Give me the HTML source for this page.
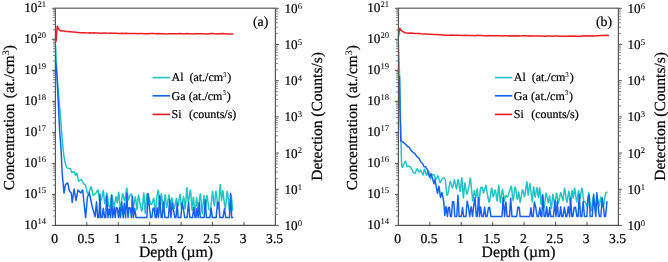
<!DOCTYPE html>
<html><head><meta charset="utf-8"><style>
html,body{margin:0;padding:0;background:#fff;width:668px;height:262px;overflow:hidden}
svg{display:block}
text{font-family:"Liberation Serif", serif;fill:#000;text-rendering:geometricPrecision;stroke:#000;stroke-width:0.22px}
tspan[font-size]{stroke-width:0.05px}
</style></head><body>
<svg width="668" height="262" viewBox="0 0 668 262">
<defs><filter id="bl" x="0" y="0" width="100%" height="100%" filterUnits="userSpaceOnUse"><feGaussianBlur stdDeviation="0.25"/></filter></defs>
<rect width="668" height="262" fill="#fff"/>
<g filter="url(#bl)">
<path d="M55.50,44.60C55.59,46.40 56.12,56.45 56.30,60.00C56.47,63.55 56.69,70.33 57.00,75.00C57.31,79.67 58.48,93.58 59.00,100.00C59.52,106.42 61.01,124.17 61.50,130.00C61.99,135.83 62.84,146.50 63.20,150.00C63.56,153.50 64.18,157.94 64.60,160.00C65.02,162.06 66.13,166.65 66.80,167.67C67.47,168.69 69.69,168.17 70.30,168.75C70.91,169.33 71.56,172.33 72.00,172.65C72.44,172.98 73.69,171.21 74.10,171.52C74.51,171.83 75.16,175.09 75.50,175.31C75.84,175.53 76.65,172.75 77.00,173.40C77.35,174.05 78.16,180.07 78.50,180.87C78.84,181.68 79.55,180.45 79.90,180.32C80.25,180.20 81.06,179.39 81.50,179.81C81.94,180.23 83.23,183.31 83.70,183.90C84.17,184.50 85.06,183.80 85.50,184.91C85.94,186.01 87.03,192.66 87.50,193.37C87.97,194.08 89.06,191.72 89.50,190.97C89.94,190.23 90.89,186.50 91.30,186.98C91.71,187.46 92.56,194.28 93.00,195.07C93.44,195.86 94.69,194.06 95.10,193.77C95.51,193.48 96.16,193.01 96.50,192.58C96.84,192.16 97.61,189.11 98.00,190.14C98.39,191.18 99.36,200.50 99.80,201.43C100.24,202.36 101.39,199.35 101.80,198.09C102.21,196.83 102.96,189.98 103.30,190.62C103.64,191.25 104.30,203.26 104.72,203.54C105.13,203.83 106.39,192.84 106.86,193.03C107.32,193.23 108.32,203.62 108.71,205.20C109.10,206.78 109.81,207.80 110.19,206.57C110.57,205.33 111.50,194.56 111.94,194.63C112.38,194.70 113.48,206.92 113.96,207.16C114.43,207.40 115.60,197.19 116.00,196.70C116.40,196.21 117.08,203.43 117.39,202.93C117.70,202.43 118.32,191.54 118.69,192.41C119.06,193.27 120.13,210.18 120.57,210.34C121.01,210.50 121.97,194.90 122.46,193.80C122.94,192.69 124.24,201.53 124.74,200.84C125.23,200.16 126.29,188.02 126.70,187.91C127.11,187.79 127.91,198.91 128.26,199.83C128.62,200.76 129.29,196.43 129.71,195.79C130.12,195.15 131.40,192.98 131.80,194.34C132.20,195.71 132.73,207.19 133.14,207.50C133.56,207.81 134.91,196.72 135.36,197.00C135.81,197.28 136.65,210.09 137.00,209.87C137.36,209.65 138.04,195.63 138.43,195.11C138.81,194.58 139.90,203.51 140.32,205.34C140.74,207.18 141.62,212.26 142.04,210.82C142.45,209.37 143.49,192.67 143.85,192.96C144.22,193.26 144.82,213.13 145.17,213.32C145.52,213.52 146.43,196.61 146.86,194.66C147.28,192.72 148.38,195.58 148.80,196.62C149.22,197.67 150.07,202.72 150.43,203.60C150.78,204.49 151.46,204.81 151.85,204.21C152.24,203.60 153.36,197.54 153.77,198.43C154.19,199.32 155.01,212.26 155.41,211.85C155.81,211.45 156.81,197.37 157.17,194.96C157.54,192.54 158.23,189.03 158.54,191.13C158.85,193.23 159.51,212.67 159.83,212.99C160.14,213.30 160.82,194.22 161.25,193.82C161.67,193.43 162.99,209.50 163.44,209.59C163.89,209.68 164.71,194.82 165.09,194.61C165.48,194.39 166.25,207.72 166.71,207.74C167.17,207.76 168.59,194.69 169.03,194.79C169.48,194.90 170.21,208.30 170.54,208.61C170.87,208.92 171.41,197.46 171.83,197.45C172.25,197.44 173.58,208.39 174.12,208.51C174.66,208.62 176.01,198.70 176.45,198.41C176.89,198.12 177.49,206.52 177.92,206.04C178.36,205.56 179.74,193.94 180.16,194.31C180.57,194.68 181.10,208.97 181.51,209.21C181.91,209.45 183.18,196.40 183.61,196.36C184.05,196.31 184.85,209.82 185.23,208.80C185.62,207.77 186.56,188.29 186.92,187.57C187.28,186.84 187.90,202.29 188.32,202.57C188.73,202.85 190.01,189.04 190.45,189.93C190.89,190.83 191.75,209.39 192.09,210.23C192.43,211.07 193.01,196.73 193.36,197.13C193.71,197.53 194.71,213.61 195.09,213.68C195.46,213.75 196.22,198.24 196.58,197.73C196.93,197.22 197.68,209.73 198.12,209.29C198.56,208.86 199.90,193.49 200.36,193.99C200.82,194.50 201.66,213.45 202.07,213.61C202.49,213.77 203.55,195.64 203.91,195.38C204.27,195.11 204.82,211.30 205.17,211.31C205.53,211.32 206.52,195.73 206.94,195.42C207.37,195.12 208.37,207.15 208.80,208.71C209.24,210.27 210.23,210.85 210.67,208.83C211.10,206.81 212.12,191.72 212.54,191.41C212.96,191.11 213.87,206.26 214.27,206.22C214.68,206.19 215.55,190.75 216.02,191.08C216.49,191.42 217.82,209.79 218.30,209.06C218.78,208.33 219.78,185.90 220.16,184.86C220.55,183.83 221.25,199.53 221.57,200.22C221.89,200.91 222.49,189.71 222.91,190.74C223.33,191.78 224.62,208.98 225.14,209.07C225.66,209.15 226.83,191.07 227.35,191.45C227.88,191.83 229.21,211.92 229.64,212.34C230.08,212.77 230.72,195.28 231.08,195.09C231.43,194.91 232.51,208.89 232.70,210.72" fill="none" stroke="#20c4c4" stroke-width="1.5" stroke-linejoin="round"/>
<polyline points="55.80,63.00 56.90,75.00 59.60,130.00 61.10,150.00 62.10,172.00 64.00,193.00 65.50,184.40 67.80,183.00 69.40,191.00 71.30,193.00 72.20,202.50 74.10,189.00 76.00,200.60 78.00,190.00 80.80,193.00 82.70,190.00 85.60,217.80 87.50,196.80 89.40,193.00 92.30,207.00 95.10,216.80 96.50,202.04 97.77,217.60 98.98,217.60 99.92,193.94 100.84,217.60 102.21,217.60 103.27,208.14 104.67,217.60 105.72,217.60 106.71,196.04 108.02,217.60 109.18,208.97 110.56,217.60 111.51,195.24 112.74,217.60 114.20,207.67 115.24,217.60 116.21,207.55 117.32,208.27 118.52,217.60 119.52,207.50 120.43,217.60 121.77,202.31 123.16,217.60 124.32,203.34 125.53,217.60 126.84,193.23 127.98,217.60 129.09,207.68 130.41,208.27 131.40,217.60 132.35,196.52 133.43,217.60 134.61,208.18 136.08,217.60 137.28,217.60 138.48,217.60 139.68,217.60 140.88,217.60 142.08,217.60 143.28,217.60 144.48,217.60 145.68,217.60 146.88,217.60 148.08,193.55 149.51,208.27 150.64,217.60 151.82,217.60 153.02,208.28 154.11,208.27 155.25,217.60 156.17,217.60 157.09,207.84 158.38,217.60 159.71,195.76 161.20,217.60 162.19,217.60 163.53,202.08 164.87,217.60 166.25,217.60 167.24,217.60 168.45,217.60 169.65,199.42 170.90,217.60 172.34,203.12 173.32,208.27 174.72,217.60 175.95,217.60 177.23,203.10 178.13,217.60 179.51,217.60 180.86,217.60 182.06,203.06 183.37,208.27 184.71,217.60 185.73,217.60 187.08,217.60 188.56,202.62 189.87,217.60 191.23,217.60 192.50,217.60 193.79,207.70 195.03,217.60 195.94,217.60 196.87,208.54 198.18,217.60 199.25,202.75 200.27,217.60 201.76,217.60 203.22,217.60 204.13,217.60 205.31,199.69 206.37,217.60 207.40,217.60 208.86,217.60 209.89,217.60 211.14,208.31 212.34,217.60 213.78,217.60 215.10,217.60 216.14,217.60 217.57,202.05 218.77,202.81 219.85,217.60 220.84,217.60 221.94,217.60 223.03,217.60 224.44,208.67 225.76,217.60 227.21,217.60 228.28,217.60 229.40,217.60 230.54,193.62 231.70,217.60 232.76,217.60" fill="none" stroke="#1762f0" stroke-width="1.5" stroke-linejoin="round" stroke-linecap="round"/>
<polyline points="56.00,41.80 57.20,26.30 58.50,29.00 60.00,30.54 62.00,31.05 64.00,31.05 66.00,31.53 68.00,31.48 70.00,31.71 72.00,31.94 74.00,31.96 76.00,32.17 78.00,32.54 80.00,32.65 82.00,32.68 84.00,32.67 86.00,32.85 88.00,32.92 90.00,32.82 92.00,32.95 94.00,32.74 96.00,33.07 98.00,33.02 100.00,33.20 102.00,33.18 104.00,33.07 106.00,33.00 108.00,33.38 110.00,33.08 112.00,33.25 114.00,33.22 116.00,33.23 118.00,33.44 120.00,33.56 122.00,33.30 124.00,33.48 126.00,33.37 128.00,33.50 130.00,33.46 132.00,33.38 134.00,33.40 136.00,33.43 138.00,33.73 140.00,33.58 142.00,33.49 144.00,33.78 146.00,33.83 148.00,33.63 150.00,33.52 152.00,33.56 154.00,33.54 156.00,33.65 158.00,33.57 160.00,33.65 162.02,33.65 164.04,33.78 166.07,33.90 168.09,33.85 170.11,33.72 172.13,33.72 174.16,33.76 176.18,33.70 178.20,33.69 180.22,33.57 182.24,33.66 184.27,33.94 186.29,33.60 188.31,33.75 190.33,33.80 192.36,33.90 194.38,33.64 196.40,33.66 198.42,33.65 200.44,33.71 202.47,33.73 204.49,33.93 206.51,33.89 208.53,33.90 210.56,33.56 212.58,33.56 214.60,33.83 216.62,33.91 218.64,33.74 220.67,33.78 222.69,33.55 224.71,33.71 226.73,33.92 228.76,33.88 230.78,33.89 232.80,33.94" fill="none" stroke="#ee1c24" stroke-width="1.5" stroke-linejoin="round" stroke-linecap="round"/>
<line x1="54.8" y1="8.3" x2="276.0" y2="8.3" stroke="#7c7c7c" stroke-width="1.4"/>
<line x1="54.8" y1="225.4" x2="276.0" y2="225.4" stroke="#555" stroke-width="1.2"/>
<line x1="55.4" y1="8.3" x2="55.4" y2="225.4" stroke="#555" stroke-width="1.2"/>
<line x1="275.4" y1="8.3" x2="275.4" y2="225.4" stroke="#555" stroke-width="1.2"/>
<line x1="51.9" y1="225.40" x2="55.4" y2="225.40" stroke="#555" stroke-width="1"/>
<line x1="52.9" y1="216.06" x2="55.4" y2="216.06" stroke="#777" stroke-width="0.9"/>
<line x1="52.9" y1="210.60" x2="55.4" y2="210.60" stroke="#777" stroke-width="0.9"/>
<line x1="52.9" y1="206.73" x2="55.4" y2="206.73" stroke="#777" stroke-width="0.9"/>
<line x1="52.9" y1="203.72" x2="55.4" y2="203.72" stroke="#777" stroke-width="0.9"/>
<line x1="52.9" y1="201.27" x2="55.4" y2="201.27" stroke="#777" stroke-width="0.9"/>
<line x1="52.9" y1="199.19" x2="55.4" y2="199.19" stroke="#777" stroke-width="0.9"/>
<line x1="52.9" y1="197.39" x2="55.4" y2="197.39" stroke="#777" stroke-width="0.9"/>
<line x1="52.9" y1="195.80" x2="55.4" y2="195.80" stroke="#777" stroke-width="0.9"/>
<line x1="51.9" y1="194.39" x2="55.4" y2="194.39" stroke="#555" stroke-width="1"/>
<line x1="52.9" y1="185.05" x2="55.4" y2="185.05" stroke="#777" stroke-width="0.9"/>
<line x1="52.9" y1="179.59" x2="55.4" y2="179.59" stroke="#777" stroke-width="0.9"/>
<line x1="52.9" y1="175.71" x2="55.4" y2="175.71" stroke="#777" stroke-width="0.9"/>
<line x1="52.9" y1="172.71" x2="55.4" y2="172.71" stroke="#777" stroke-width="0.9"/>
<line x1="52.9" y1="170.25" x2="55.4" y2="170.25" stroke="#777" stroke-width="0.9"/>
<line x1="52.9" y1="168.18" x2="55.4" y2="168.18" stroke="#777" stroke-width="0.9"/>
<line x1="52.9" y1="166.38" x2="55.4" y2="166.38" stroke="#777" stroke-width="0.9"/>
<line x1="52.9" y1="164.79" x2="55.4" y2="164.79" stroke="#777" stroke-width="0.9"/>
<line x1="51.9" y1="163.37" x2="55.4" y2="163.37" stroke="#555" stroke-width="1"/>
<line x1="52.9" y1="154.04" x2="55.4" y2="154.04" stroke="#777" stroke-width="0.9"/>
<line x1="52.9" y1="148.57" x2="55.4" y2="148.57" stroke="#777" stroke-width="0.9"/>
<line x1="52.9" y1="144.70" x2="55.4" y2="144.70" stroke="#777" stroke-width="0.9"/>
<line x1="52.9" y1="141.69" x2="55.4" y2="141.69" stroke="#777" stroke-width="0.9"/>
<line x1="52.9" y1="139.24" x2="55.4" y2="139.24" stroke="#777" stroke-width="0.9"/>
<line x1="52.9" y1="137.16" x2="55.4" y2="137.16" stroke="#777" stroke-width="0.9"/>
<line x1="52.9" y1="135.36" x2="55.4" y2="135.36" stroke="#777" stroke-width="0.9"/>
<line x1="52.9" y1="133.78" x2="55.4" y2="133.78" stroke="#777" stroke-width="0.9"/>
<line x1="51.9" y1="132.36" x2="55.4" y2="132.36" stroke="#555" stroke-width="1"/>
<line x1="52.9" y1="123.02" x2="55.4" y2="123.02" stroke="#777" stroke-width="0.9"/>
<line x1="52.9" y1="117.56" x2="55.4" y2="117.56" stroke="#777" stroke-width="0.9"/>
<line x1="52.9" y1="113.68" x2="55.4" y2="113.68" stroke="#777" stroke-width="0.9"/>
<line x1="52.9" y1="110.68" x2="55.4" y2="110.68" stroke="#777" stroke-width="0.9"/>
<line x1="52.9" y1="108.22" x2="55.4" y2="108.22" stroke="#777" stroke-width="0.9"/>
<line x1="52.9" y1="106.15" x2="55.4" y2="106.15" stroke="#777" stroke-width="0.9"/>
<line x1="52.9" y1="104.35" x2="55.4" y2="104.35" stroke="#777" stroke-width="0.9"/>
<line x1="52.9" y1="102.76" x2="55.4" y2="102.76" stroke="#777" stroke-width="0.9"/>
<line x1="51.9" y1="101.34" x2="55.4" y2="101.34" stroke="#555" stroke-width="1"/>
<line x1="52.9" y1="92.01" x2="55.4" y2="92.01" stroke="#777" stroke-width="0.9"/>
<line x1="52.9" y1="86.55" x2="55.4" y2="86.55" stroke="#777" stroke-width="0.9"/>
<line x1="52.9" y1="82.67" x2="55.4" y2="82.67" stroke="#777" stroke-width="0.9"/>
<line x1="52.9" y1="79.66" x2="55.4" y2="79.66" stroke="#777" stroke-width="0.9"/>
<line x1="52.9" y1="77.21" x2="55.4" y2="77.21" stroke="#777" stroke-width="0.9"/>
<line x1="52.9" y1="75.13" x2="55.4" y2="75.13" stroke="#777" stroke-width="0.9"/>
<line x1="52.9" y1="73.33" x2="55.4" y2="73.33" stroke="#777" stroke-width="0.9"/>
<line x1="52.9" y1="71.75" x2="55.4" y2="71.75" stroke="#777" stroke-width="0.9"/>
<line x1="51.9" y1="70.33" x2="55.4" y2="70.33" stroke="#555" stroke-width="1"/>
<line x1="52.9" y1="60.99" x2="55.4" y2="60.99" stroke="#777" stroke-width="0.9"/>
<line x1="52.9" y1="55.53" x2="55.4" y2="55.53" stroke="#777" stroke-width="0.9"/>
<line x1="52.9" y1="51.66" x2="55.4" y2="51.66" stroke="#777" stroke-width="0.9"/>
<line x1="52.9" y1="48.65" x2="55.4" y2="48.65" stroke="#777" stroke-width="0.9"/>
<line x1="52.9" y1="46.19" x2="55.4" y2="46.19" stroke="#777" stroke-width="0.9"/>
<line x1="52.9" y1="44.12" x2="55.4" y2="44.12" stroke="#777" stroke-width="0.9"/>
<line x1="52.9" y1="42.32" x2="55.4" y2="42.32" stroke="#777" stroke-width="0.9"/>
<line x1="52.9" y1="40.73" x2="55.4" y2="40.73" stroke="#777" stroke-width="0.9"/>
<line x1="51.9" y1="39.31" x2="55.4" y2="39.31" stroke="#555" stroke-width="1"/>
<line x1="52.9" y1="29.98" x2="55.4" y2="29.98" stroke="#777" stroke-width="0.9"/>
<line x1="52.9" y1="24.52" x2="55.4" y2="24.52" stroke="#777" stroke-width="0.9"/>
<line x1="52.9" y1="20.64" x2="55.4" y2="20.64" stroke="#777" stroke-width="0.9"/>
<line x1="52.9" y1="17.64" x2="55.4" y2="17.64" stroke="#777" stroke-width="0.9"/>
<line x1="52.9" y1="15.18" x2="55.4" y2="15.18" stroke="#777" stroke-width="0.9"/>
<line x1="52.9" y1="13.10" x2="55.4" y2="13.10" stroke="#777" stroke-width="0.9"/>
<line x1="52.9" y1="11.31" x2="55.4" y2="11.31" stroke="#777" stroke-width="0.9"/>
<line x1="52.9" y1="9.72" x2="55.4" y2="9.72" stroke="#777" stroke-width="0.9"/>
<line x1="51.9" y1="8.3" x2="55.4" y2="8.3" stroke="#555" stroke-width="1"/>
<line x1="275.4" y1="225.40" x2="278.9" y2="225.40" stroke="#555" stroke-width="1"/>
<line x1="275.4" y1="214.51" x2="277.9" y2="214.51" stroke="#777" stroke-width="0.9"/>
<line x1="275.4" y1="208.14" x2="277.9" y2="208.14" stroke="#777" stroke-width="0.9"/>
<line x1="275.4" y1="203.62" x2="277.9" y2="203.62" stroke="#777" stroke-width="0.9"/>
<line x1="275.4" y1="200.11" x2="277.9" y2="200.11" stroke="#777" stroke-width="0.9"/>
<line x1="275.4" y1="197.24" x2="277.9" y2="197.24" stroke="#777" stroke-width="0.9"/>
<line x1="275.4" y1="194.82" x2="277.9" y2="194.82" stroke="#777" stroke-width="0.9"/>
<line x1="275.4" y1="192.72" x2="277.9" y2="192.72" stroke="#777" stroke-width="0.9"/>
<line x1="275.4" y1="190.87" x2="277.9" y2="190.87" stroke="#777" stroke-width="0.9"/>
<line x1="275.4" y1="189.22" x2="278.9" y2="189.22" stroke="#555" stroke-width="1"/>
<line x1="275.4" y1="178.32" x2="277.9" y2="178.32" stroke="#777" stroke-width="0.9"/>
<line x1="275.4" y1="171.95" x2="277.9" y2="171.95" stroke="#777" stroke-width="0.9"/>
<line x1="275.4" y1="167.43" x2="277.9" y2="167.43" stroke="#777" stroke-width="0.9"/>
<line x1="275.4" y1="163.93" x2="277.9" y2="163.93" stroke="#777" stroke-width="0.9"/>
<line x1="275.4" y1="161.06" x2="277.9" y2="161.06" stroke="#777" stroke-width="0.9"/>
<line x1="275.4" y1="158.64" x2="277.9" y2="158.64" stroke="#777" stroke-width="0.9"/>
<line x1="275.4" y1="156.54" x2="277.9" y2="156.54" stroke="#777" stroke-width="0.9"/>
<line x1="275.4" y1="154.69" x2="277.9" y2="154.69" stroke="#777" stroke-width="0.9"/>
<line x1="275.4" y1="153.03" x2="278.9" y2="153.03" stroke="#555" stroke-width="1"/>
<line x1="275.4" y1="142.14" x2="277.9" y2="142.14" stroke="#777" stroke-width="0.9"/>
<line x1="275.4" y1="135.77" x2="277.9" y2="135.77" stroke="#777" stroke-width="0.9"/>
<line x1="275.4" y1="131.25" x2="277.9" y2="131.25" stroke="#777" stroke-width="0.9"/>
<line x1="275.4" y1="127.74" x2="277.9" y2="127.74" stroke="#777" stroke-width="0.9"/>
<line x1="275.4" y1="124.88" x2="277.9" y2="124.88" stroke="#777" stroke-width="0.9"/>
<line x1="275.4" y1="122.45" x2="277.9" y2="122.45" stroke="#777" stroke-width="0.9"/>
<line x1="275.4" y1="120.36" x2="277.9" y2="120.36" stroke="#777" stroke-width="0.9"/>
<line x1="275.4" y1="118.51" x2="277.9" y2="118.51" stroke="#777" stroke-width="0.9"/>
<line x1="275.4" y1="116.85" x2="278.9" y2="116.85" stroke="#555" stroke-width="1"/>
<line x1="275.4" y1="105.96" x2="277.9" y2="105.96" stroke="#777" stroke-width="0.9"/>
<line x1="275.4" y1="99.59" x2="277.9" y2="99.59" stroke="#777" stroke-width="0.9"/>
<line x1="275.4" y1="95.07" x2="277.9" y2="95.07" stroke="#777" stroke-width="0.9"/>
<line x1="275.4" y1="91.56" x2="277.9" y2="91.56" stroke="#777" stroke-width="0.9"/>
<line x1="275.4" y1="88.69" x2="277.9" y2="88.69" stroke="#777" stroke-width="0.9"/>
<line x1="275.4" y1="86.27" x2="277.9" y2="86.27" stroke="#777" stroke-width="0.9"/>
<line x1="275.4" y1="84.17" x2="277.9" y2="84.17" stroke="#777" stroke-width="0.9"/>
<line x1="275.4" y1="82.32" x2="277.9" y2="82.32" stroke="#777" stroke-width="0.9"/>
<line x1="275.4" y1="80.67" x2="278.9" y2="80.67" stroke="#555" stroke-width="1"/>
<line x1="275.4" y1="69.77" x2="277.9" y2="69.77" stroke="#777" stroke-width="0.9"/>
<line x1="275.4" y1="63.40" x2="277.9" y2="63.40" stroke="#777" stroke-width="0.9"/>
<line x1="275.4" y1="58.88" x2="277.9" y2="58.88" stroke="#777" stroke-width="0.9"/>
<line x1="275.4" y1="55.38" x2="277.9" y2="55.38" stroke="#777" stroke-width="0.9"/>
<line x1="275.4" y1="52.51" x2="277.9" y2="52.51" stroke="#777" stroke-width="0.9"/>
<line x1="275.4" y1="50.09" x2="277.9" y2="50.09" stroke="#777" stroke-width="0.9"/>
<line x1="275.4" y1="47.99" x2="277.9" y2="47.99" stroke="#777" stroke-width="0.9"/>
<line x1="275.4" y1="46.14" x2="277.9" y2="46.14" stroke="#777" stroke-width="0.9"/>
<line x1="275.4" y1="44.48" x2="278.9" y2="44.48" stroke="#555" stroke-width="1"/>
<line x1="275.4" y1="33.59" x2="277.9" y2="33.59" stroke="#777" stroke-width="0.9"/>
<line x1="275.4" y1="27.22" x2="277.9" y2="27.22" stroke="#777" stroke-width="0.9"/>
<line x1="275.4" y1="22.70" x2="277.9" y2="22.70" stroke="#777" stroke-width="0.9"/>
<line x1="275.4" y1="19.19" x2="277.9" y2="19.19" stroke="#777" stroke-width="0.9"/>
<line x1="275.4" y1="16.33" x2="277.9" y2="16.33" stroke="#777" stroke-width="0.9"/>
<line x1="275.4" y1="13.90" x2="277.9" y2="13.90" stroke="#777" stroke-width="0.9"/>
<line x1="275.4" y1="11.81" x2="277.9" y2="11.81" stroke="#777" stroke-width="0.9"/>
<line x1="275.4" y1="9.96" x2="277.9" y2="9.96" stroke="#777" stroke-width="0.9"/>
<line x1="275.4" y1="8.3" x2="278.9" y2="8.3" stroke="#555" stroke-width="1"/>
<line x1="86.83" y1="221.9" x2="86.83" y2="225.4" stroke="#555" stroke-width="1"/>
<line x1="118.26" y1="221.9" x2="118.26" y2="225.4" stroke="#555" stroke-width="1"/>
<line x1="149.69" y1="221.9" x2="149.69" y2="225.4" stroke="#555" stroke-width="1"/>
<line x1="181.11" y1="221.9" x2="181.11" y2="225.4" stroke="#555" stroke-width="1"/>
<line x1="212.54" y1="221.9" x2="212.54" y2="225.4" stroke="#555" stroke-width="1"/>
<line x1="243.97" y1="221.9" x2="243.97" y2="225.4" stroke="#555" stroke-width="1"/>
<text x="24.2" y="228.70" font-size="13.2">10<tspan font-size="8.6" dy="-4.3">14</tspan></text>
<text x="24.2" y="197.69" font-size="13.2">10<tspan font-size="8.6" dy="-4.3">15</tspan></text>
<text x="24.2" y="166.67" font-size="13.2">10<tspan font-size="8.6" dy="-4.3">16</tspan></text>
<text x="24.2" y="135.66" font-size="13.2">10<tspan font-size="8.6" dy="-4.3">17</tspan></text>
<text x="24.2" y="104.64" font-size="13.2">10<tspan font-size="8.6" dy="-4.3">18</tspan></text>
<text x="24.2" y="73.63" font-size="13.2">10<tspan font-size="8.6" dy="-4.3">19</tspan></text>
<text x="24.2" y="42.61" font-size="13.2">10<tspan font-size="8.6" dy="-4.3">20</tspan></text>
<text x="24.2" y="11.60" font-size="13.2">10<tspan font-size="8.6" dy="-4.3">21</tspan></text>
<text x="284.5" y="230.00" font-size="13.2">10<tspan font-size="8.6" dy="-4.3">0</tspan></text>
<text x="284.5" y="193.82" font-size="13.2">10<tspan font-size="8.6" dy="-4.3">1</tspan></text>
<text x="284.5" y="157.63" font-size="13.2">10<tspan font-size="8.6" dy="-4.3">2</tspan></text>
<text x="284.5" y="121.45" font-size="13.2">10<tspan font-size="8.6" dy="-4.3">3</tspan></text>
<text x="284.5" y="85.27" font-size="13.2">10<tspan font-size="8.6" dy="-4.3">4</tspan></text>
<text x="284.5" y="49.08" font-size="13.2">10<tspan font-size="8.6" dy="-4.3">5</tspan></text>
<text x="284.5" y="12.90" font-size="13.2">10<tspan font-size="8.6" dy="-4.3">6</tspan></text>
<text x="54.60" y="242.60" font-size="13.6" text-anchor="middle">0</text>
<text x="86.03" y="242.60" font-size="13.6" text-anchor="middle">0.5</text>
<text x="117.46" y="242.60" font-size="13.6" text-anchor="middle">1</text>
<text x="148.89" y="242.60" font-size="13.6" text-anchor="middle">1.5</text>
<text x="180.31" y="242.60" font-size="13.6" text-anchor="middle">2</text>
<text x="211.74" y="242.60" font-size="13.6" text-anchor="middle">2.5</text>
<text x="243.17" y="242.60" font-size="13.6" text-anchor="middle">3</text>
<text x="274.60" y="242.60" font-size="13.6" text-anchor="middle">3.5</text>
<text x="139.0" y="256.8" font-size="15.7">Depth (&#181;m)</text>
<text transform="translate(14.3,190.2) rotate(-90)" font-size="15.3">Concentration</text>
<text transform="translate(14.3,98.2) rotate(-90)" font-size="15.3">(at./cm<tspan font-size="10" dy="-5.5">3</tspan><tspan dy="5.5">)</tspan></text>
<text transform="translate(321.5,116.4) rotate(-90)" font-size="15.5" text-anchor="middle">Detection (Counts/s)</text>
<text x="253" y="26.2" font-size="13.8">(a)</text>
<line x1="152.6" y1="77.6" x2="170" y2="77.6" stroke="#20c4c4" stroke-width="1.6"/>
<text x="171.5" y="81.39999999999999" font-size="12">Al<tspan x="189.4">(at./cm<tspan font-size="7" dy="-4.8">3</tspan><tspan dy="4.8" dx="0.8">)</tspan></tspan></text>
<line x1="152.6" y1="95.8" x2="170" y2="95.8" stroke="#1762f0" stroke-width="1.6"/>
<text x="171.5" y="99.6" font-size="12">Ga<tspan x="188.8">(at./cm<tspan font-size="7" dy="-4.8">3</tspan><tspan dy="4.8" dx="0.8">)</tspan></tspan></text>
<line x1="152.6" y1="114.4" x2="170" y2="114.4" stroke="#ee1c24" stroke-width="1.6"/>
<text x="171.5" y="118.2" font-size="12">Si<tspan x="189.0">(counts/s)</tspan></text>
<path d="M398.50,44.60C398.62,48.20 399.27,66.70 399.50,75.50C399.73,84.30 400.24,109.56 400.50,120.00C400.76,130.44 401.34,159.82 401.70,165.00C402.06,170.18 403.16,164.83 403.60,164.39C404.04,163.96 405.10,161.04 405.50,161.28C405.90,161.52 406.59,165.92 407.00,166.48C407.41,167.04 408.50,165.90 409.00,166.10C409.50,166.30 410.83,167.52 411.30,168.20C411.77,168.88 412.56,171.36 413.00,171.94C413.44,172.52 414.63,173.56 415.10,173.18C415.57,172.79 416.55,168.77 417.00,168.65C417.45,168.53 418.56,171.99 419.00,172.17C419.44,172.34 420.33,169.76 420.80,170.11C421.27,170.47 422.57,175.36 423.00,175.23C423.43,175.09 424.09,168.96 424.50,168.97C424.91,168.99 426.03,175.13 426.50,175.34C426.97,175.56 428.03,170.41 428.50,170.82C428.97,171.23 430.09,178.40 430.50,178.85C430.91,179.29 431.57,175.07 432.00,174.64C432.43,174.21 433.73,174.59 434.20,175.14C434.67,175.69 435.56,179.27 436.00,179.36C436.44,179.45 437.53,175.53 438.00,175.91C438.47,176.29 439.53,182.25 440.00,182.60C440.47,182.95 441.57,179.40 442.00,178.87C442.43,178.35 443.31,177.98 443.70,178.09C444.08,178.20 444.94,177.88 445.30,179.82C445.66,181.77 446.44,193.40 446.80,194.79C447.16,196.17 448.00,193.27 448.39,191.72C448.78,190.16 449.69,181.88 450.16,181.45C450.64,181.02 451.96,188.26 452.46,188.07C452.96,187.87 453.98,179.65 454.45,179.81C454.91,179.96 456.00,189.39 456.43,189.36C456.86,189.33 457.69,179.29 458.14,179.54C458.59,179.79 459.83,191.69 460.26,191.50C460.70,191.31 461.50,177.16 461.86,177.91C462.22,178.67 463.01,197.40 463.36,197.98C463.70,198.56 464.42,183.36 464.82,182.92C465.22,182.47 466.30,193.86 466.80,194.20C467.30,194.53 468.69,187.66 469.11,185.81C469.54,183.95 470.01,176.56 470.44,178.32C470.86,180.07 472.33,199.44 472.77,200.88C473.22,202.31 473.87,190.96 474.23,190.58C474.60,190.21 475.54,197.89 475.90,197.68C476.27,197.46 477.01,187.93 477.35,188.72C477.68,189.51 478.38,204.40 478.74,204.48C479.09,204.56 479.99,191.41 480.38,189.39C480.78,187.38 481.78,186.80 482.16,187.22C482.53,187.63 483.20,193.15 483.62,192.93C484.04,192.71 485.36,185.43 485.76,185.34C486.16,185.26 486.65,190.24 487.06,192.21C487.47,194.19 488.76,202.76 489.29,202.27C489.82,201.78 491.13,188.64 491.58,188.00C492.03,187.36 492.70,196.55 493.14,196.79C493.58,197.02 494.92,189.49 495.39,189.97C495.86,190.46 496.76,201.54 497.16,200.97C497.57,200.40 498.48,184.90 498.84,185.08C499.21,185.27 499.88,202.10 500.30,202.57C500.72,203.04 502.00,189.25 502.45,189.10C502.89,188.94 503.73,200.52 504.10,201.25C504.46,201.98 505.18,195.83 505.57,195.35C505.96,194.86 506.95,197.62 507.43,197.11C507.90,196.59 509.17,192.21 509.64,190.95C510.11,189.69 511.05,185.19 511.44,186.33C511.83,187.47 512.52,200.67 512.95,200.72C513.38,200.78 514.62,186.96 515.13,186.81C515.63,186.65 516.87,198.80 517.30,199.40C517.72,199.99 518.43,191.56 518.77,191.91C519.11,192.25 519.76,202.60 520.20,202.35C520.64,202.10 522.01,190.41 522.53,189.72C523.05,189.03 524.16,197.38 524.66,196.45C525.16,195.53 526.40,181.94 526.81,181.79C527.21,181.64 527.74,194.98 528.11,195.20C528.48,195.43 529.52,182.95 530.00,183.71C530.48,184.46 531.78,201.34 532.20,201.70C532.61,202.07 533.23,187.31 533.57,186.81C533.90,186.32 534.67,197.41 535.06,197.47C535.46,197.54 536.60,187.34 536.97,187.36C537.34,187.38 537.92,197.57 538.24,197.63C538.57,197.68 539.40,187.03 539.72,187.81C540.05,188.58 540.74,203.51 541.05,204.27C541.37,205.03 542.05,193.91 542.41,194.33C542.77,194.74 543.70,207.98 544.11,207.84C544.53,207.70 545.51,193.71 545.99,193.13C546.46,192.55 547.75,202.51 548.18,202.85C548.61,203.20 549.29,195.43 549.66,196.09C550.03,196.75 551.01,208.71 551.38,208.50C551.74,208.30 552.42,194.78 552.81,194.34C553.21,193.90 554.33,204.85 554.76,204.71C555.20,204.57 556.15,193.29 556.57,193.14C556.99,193.00 557.91,203.52 558.39,203.47C558.87,203.42 560.16,193.07 560.70,192.72C561.23,192.37 562.51,201.04 562.97,200.50C563.44,199.96 564.21,187.88 564.65,188.11C565.10,188.33 566.30,202.03 566.80,202.41C567.31,202.78 568.55,191.22 568.98,191.32C569.41,191.42 570.12,203.38 570.47,203.29C570.83,203.20 571.67,191.19 572.00,190.58C572.33,189.98 572.99,198.44 573.30,198.14C573.62,197.84 574.30,187.58 574.69,188.02C575.08,188.46 576.17,201.59 576.63,201.89C577.08,202.18 578.22,190.86 578.60,190.55C578.98,190.23 579.49,199.42 579.89,199.15C580.28,198.89 581.54,188.09 581.99,188.30C582.44,188.51 583.35,199.32 583.76,200.95C584.17,202.59 585.07,201.63 585.50,202.31C585.93,202.99 587.06,207.91 587.44,206.75C587.82,205.59 588.34,191.88 588.76,192.35C589.18,192.82 590.53,210.21 591.05,210.80C591.57,211.38 592.73,197.85 593.19,197.36C593.65,196.87 594.51,206.53 594.98,206.61C595.45,206.69 596.74,198.13 597.25,198.06C597.75,197.98 598.91,206.13 599.32,205.98C599.73,205.83 600.40,196.71 600.74,196.74C601.08,196.78 601.88,205.25 602.22,206.26C602.57,207.28 603.28,206.96 603.68,205.42C604.08,203.89 605.23,194.60 605.67,193.11C606.12,191.62 607.29,192.70 607.51,192.64" fill="none" stroke="#20c4c4" stroke-width="1.5" stroke-linejoin="round"/>
<polyline points="399.50,76.60 400.00,110.00 400.80,140.70 403.00,142.14 405.00,143.71 407.50,146.49 409.00,146.97 411.00,150.28 413.00,152.34 415.10,153.83 417.00,156.77 419.00,158.39 421.00,162.28 422.70,163.80 424.00,166.64 425.50,166.69 427.50,170.15 429.50,176.86 431.00,173.63 432.30,177.73 434.00,183.83 435.00,179.36 436.00,185.36 437.50,193.26 439.00,186.22 440.50,197.43 442.00,192.51 443.70,201.30 444.80,215.60 446.00,206.61 447.44,216.50 448.42,207.41 449.38,207.17 450.34,216.50 451.46,216.50 452.49,201.85 453.75,201.71 454.80,216.50 455.79,216.50 456.74,216.50 458.03,195.28 459.08,216.50 459.99,216.50 461.28,216.50 462.52,207.40 463.57,216.50 465.01,216.50 465.93,216.50 467.15,201.29 468.49,207.17 469.72,216.50 471.18,206.69 472.57,216.50 473.57,206.85 474.96,197.84 476.29,216.50 477.19,216.50 478.60,197.78 479.56,216.50 480.60,206.90 481.92,216.50 483.33,216.50 484.65,207.25 485.71,216.50 487.00,216.50 488.48,207.78 489.56,207.17 490.91,216.50 492.38,216.50 493.58,216.50 494.78,216.50 495.98,216.50 497.18,216.50 498.38,216.50 499.58,216.50 500.78,216.50 501.98,216.50 503.18,197.56 504.62,216.50 505.90,201.97 507.08,216.50 508.28,216.50 509.48,216.50 510.68,198.15 511.92,216.50 513.01,216.50 514.21,216.50 515.41,216.50 516.61,216.50 517.81,207.36 519.20,207.17 520.12,216.50 521.32,216.50 522.52,216.50 523.72,216.50 524.92,216.50 526.12,216.50 527.32,216.50 528.52,216.50 529.72,216.50 530.92,207.85 531.85,216.50 533.16,216.50 534.44,202.09 535.69,207.17 537.08,216.50 538.47,216.50 539.90,207.76 540.93,216.50 541.89,216.50 542.81,195.33 544.21,216.50 545.49,216.50 546.56,206.52 547.71,216.50 548.63,216.50 549.68,207.51 550.77,216.50 552.25,216.50 553.45,216.50 554.86,200.96 555.97,216.50 557.30,201.26 558.25,216.50 559.64,216.50 560.64,206.69 561.84,216.50 563.03,216.50 564.41,207.16 565.81,216.50 566.87,216.50 568.33,206.71 569.62,216.50 570.56,198.15 571.84,216.50 572.95,216.50 574.09,207.79 575.48,207.17 576.92,216.50 578.12,216.50 579.25,194.41 580.47,216.50 581.82,216.50 583.17,201.47 584.47,216.50 585.82,216.50 586.82,216.50 587.98,197.96 589.16,194.83 590.21,216.50 591.22,216.50 592.30,216.50 593.62,194.28 594.70,207.17 595.80,216.50 596.81,192.74 598.23,207.17 599.37,216.50 600.86,216.50 602.23,197.73 603.50,207.17 604.42,216.50 605.56,216.50 606.93,201.71" fill="none" stroke="#1762f0" stroke-width="1.5" stroke-linejoin="round" stroke-linecap="round"/>
<polyline points="398.40,36.60 399.80,28.20 401.00,30.36 403.00,31.69 405.00,32.76 407.00,33.01 409.00,33.18 411.00,33.10 413.00,33.27 415.00,33.45 417.00,33.43 419.00,33.46 421.00,33.77 423.00,33.94 425.00,34.01 427.00,34.10 429.00,34.28 431.00,34.33 433.00,34.44 435.00,34.48 437.00,34.55 439.00,34.79 441.00,34.70 443.00,34.95 445.00,35.21 447.04,35.21 449.07,35.20 451.11,35.08 453.15,35.17 455.19,35.21 457.22,35.30 459.26,35.25 461.30,35.38 463.33,35.51 465.37,35.23 467.41,35.45 469.44,35.52 471.48,35.39 473.52,35.46 475.56,35.68 477.59,35.33 479.63,35.56 481.67,35.43 483.70,35.71 485.74,35.79 487.78,35.65 489.81,35.51 491.85,35.73 493.89,35.74 495.93,35.84 497.96,35.78 500.00,35.86 502.00,35.94 504.00,35.83 506.00,35.80 508.00,36.02 510.00,35.74 512.00,35.94 514.00,35.84 516.00,36.00 518.00,35.75 520.00,36.11 522.00,35.87 524.00,35.76 526.00,35.86 528.00,35.92 530.00,35.78 532.00,35.95 534.00,35.96 536.00,36.09 538.00,35.96 540.00,35.93 542.00,35.93 544.00,36.15 546.00,36.24 548.00,36.09 550.00,35.97 552.00,36.22 554.00,36.07 556.00,36.00 558.00,35.98 560.00,36.25 562.00,36.28 564.00,36.22 566.00,36.16 568.00,36.21 570.00,36.09 572.03,36.35 574.05,36.07 576.08,36.14 578.11,36.18 580.13,36.14 582.16,35.97 584.18,35.86 586.21,35.92 588.24,35.72 590.26,35.97 592.29,35.74 594.32,35.90 596.34,35.63 598.37,35.63 600.39,35.55 602.42,35.58 604.45,35.45 606.47,35.34 608.50,35.59" fill="none" stroke="#ee1c24" stroke-width="1.5" stroke-linejoin="round" stroke-linecap="round"/>
<line x1="397.79999999999995" y1="8.3" x2="619.0" y2="8.3" stroke="#7c7c7c" stroke-width="1.4"/>
<line x1="397.79999999999995" y1="225.4" x2="619.0" y2="225.4" stroke="#555" stroke-width="1.2"/>
<line x1="398.4" y1="8.3" x2="398.4" y2="225.4" stroke="#555" stroke-width="1.2"/>
<line x1="618.4" y1="8.3" x2="618.4" y2="225.4" stroke="#555" stroke-width="1.2"/>
<line x1="394.9" y1="225.40" x2="398.4" y2="225.40" stroke="#555" stroke-width="1"/>
<line x1="395.9" y1="216.06" x2="398.4" y2="216.06" stroke="#777" stroke-width="0.9"/>
<line x1="395.9" y1="210.60" x2="398.4" y2="210.60" stroke="#777" stroke-width="0.9"/>
<line x1="395.9" y1="206.73" x2="398.4" y2="206.73" stroke="#777" stroke-width="0.9"/>
<line x1="395.9" y1="203.72" x2="398.4" y2="203.72" stroke="#777" stroke-width="0.9"/>
<line x1="395.9" y1="201.27" x2="398.4" y2="201.27" stroke="#777" stroke-width="0.9"/>
<line x1="395.9" y1="199.19" x2="398.4" y2="199.19" stroke="#777" stroke-width="0.9"/>
<line x1="395.9" y1="197.39" x2="398.4" y2="197.39" stroke="#777" stroke-width="0.9"/>
<line x1="395.9" y1="195.80" x2="398.4" y2="195.80" stroke="#777" stroke-width="0.9"/>
<line x1="394.9" y1="194.39" x2="398.4" y2="194.39" stroke="#555" stroke-width="1"/>
<line x1="395.9" y1="185.05" x2="398.4" y2="185.05" stroke="#777" stroke-width="0.9"/>
<line x1="395.9" y1="179.59" x2="398.4" y2="179.59" stroke="#777" stroke-width="0.9"/>
<line x1="395.9" y1="175.71" x2="398.4" y2="175.71" stroke="#777" stroke-width="0.9"/>
<line x1="395.9" y1="172.71" x2="398.4" y2="172.71" stroke="#777" stroke-width="0.9"/>
<line x1="395.9" y1="170.25" x2="398.4" y2="170.25" stroke="#777" stroke-width="0.9"/>
<line x1="395.9" y1="168.18" x2="398.4" y2="168.18" stroke="#777" stroke-width="0.9"/>
<line x1="395.9" y1="166.38" x2="398.4" y2="166.38" stroke="#777" stroke-width="0.9"/>
<line x1="395.9" y1="164.79" x2="398.4" y2="164.79" stroke="#777" stroke-width="0.9"/>
<line x1="394.9" y1="163.37" x2="398.4" y2="163.37" stroke="#555" stroke-width="1"/>
<line x1="395.9" y1="154.04" x2="398.4" y2="154.04" stroke="#777" stroke-width="0.9"/>
<line x1="395.9" y1="148.57" x2="398.4" y2="148.57" stroke="#777" stroke-width="0.9"/>
<line x1="395.9" y1="144.70" x2="398.4" y2="144.70" stroke="#777" stroke-width="0.9"/>
<line x1="395.9" y1="141.69" x2="398.4" y2="141.69" stroke="#777" stroke-width="0.9"/>
<line x1="395.9" y1="139.24" x2="398.4" y2="139.24" stroke="#777" stroke-width="0.9"/>
<line x1="395.9" y1="137.16" x2="398.4" y2="137.16" stroke="#777" stroke-width="0.9"/>
<line x1="395.9" y1="135.36" x2="398.4" y2="135.36" stroke="#777" stroke-width="0.9"/>
<line x1="395.9" y1="133.78" x2="398.4" y2="133.78" stroke="#777" stroke-width="0.9"/>
<line x1="394.9" y1="132.36" x2="398.4" y2="132.36" stroke="#555" stroke-width="1"/>
<line x1="395.9" y1="123.02" x2="398.4" y2="123.02" stroke="#777" stroke-width="0.9"/>
<line x1="395.9" y1="117.56" x2="398.4" y2="117.56" stroke="#777" stroke-width="0.9"/>
<line x1="395.9" y1="113.68" x2="398.4" y2="113.68" stroke="#777" stroke-width="0.9"/>
<line x1="395.9" y1="110.68" x2="398.4" y2="110.68" stroke="#777" stroke-width="0.9"/>
<line x1="395.9" y1="108.22" x2="398.4" y2="108.22" stroke="#777" stroke-width="0.9"/>
<line x1="395.9" y1="106.15" x2="398.4" y2="106.15" stroke="#777" stroke-width="0.9"/>
<line x1="395.9" y1="104.35" x2="398.4" y2="104.35" stroke="#777" stroke-width="0.9"/>
<line x1="395.9" y1="102.76" x2="398.4" y2="102.76" stroke="#777" stroke-width="0.9"/>
<line x1="394.9" y1="101.34" x2="398.4" y2="101.34" stroke="#555" stroke-width="1"/>
<line x1="395.9" y1="92.01" x2="398.4" y2="92.01" stroke="#777" stroke-width="0.9"/>
<line x1="395.9" y1="86.55" x2="398.4" y2="86.55" stroke="#777" stroke-width="0.9"/>
<line x1="395.9" y1="82.67" x2="398.4" y2="82.67" stroke="#777" stroke-width="0.9"/>
<line x1="395.9" y1="79.66" x2="398.4" y2="79.66" stroke="#777" stroke-width="0.9"/>
<line x1="395.9" y1="77.21" x2="398.4" y2="77.21" stroke="#777" stroke-width="0.9"/>
<line x1="395.9" y1="75.13" x2="398.4" y2="75.13" stroke="#777" stroke-width="0.9"/>
<line x1="395.9" y1="73.33" x2="398.4" y2="73.33" stroke="#777" stroke-width="0.9"/>
<line x1="395.9" y1="71.75" x2="398.4" y2="71.75" stroke="#777" stroke-width="0.9"/>
<line x1="394.9" y1="70.33" x2="398.4" y2="70.33" stroke="#555" stroke-width="1"/>
<line x1="395.9" y1="60.99" x2="398.4" y2="60.99" stroke="#777" stroke-width="0.9"/>
<line x1="395.9" y1="55.53" x2="398.4" y2="55.53" stroke="#777" stroke-width="0.9"/>
<line x1="395.9" y1="51.66" x2="398.4" y2="51.66" stroke="#777" stroke-width="0.9"/>
<line x1="395.9" y1="48.65" x2="398.4" y2="48.65" stroke="#777" stroke-width="0.9"/>
<line x1="395.9" y1="46.19" x2="398.4" y2="46.19" stroke="#777" stroke-width="0.9"/>
<line x1="395.9" y1="44.12" x2="398.4" y2="44.12" stroke="#777" stroke-width="0.9"/>
<line x1="395.9" y1="42.32" x2="398.4" y2="42.32" stroke="#777" stroke-width="0.9"/>
<line x1="395.9" y1="40.73" x2="398.4" y2="40.73" stroke="#777" stroke-width="0.9"/>
<line x1="394.9" y1="39.31" x2="398.4" y2="39.31" stroke="#555" stroke-width="1"/>
<line x1="395.9" y1="29.98" x2="398.4" y2="29.98" stroke="#777" stroke-width="0.9"/>
<line x1="395.9" y1="24.52" x2="398.4" y2="24.52" stroke="#777" stroke-width="0.9"/>
<line x1="395.9" y1="20.64" x2="398.4" y2="20.64" stroke="#777" stroke-width="0.9"/>
<line x1="395.9" y1="17.64" x2="398.4" y2="17.64" stroke="#777" stroke-width="0.9"/>
<line x1="395.9" y1="15.18" x2="398.4" y2="15.18" stroke="#777" stroke-width="0.9"/>
<line x1="395.9" y1="13.10" x2="398.4" y2="13.10" stroke="#777" stroke-width="0.9"/>
<line x1="395.9" y1="11.31" x2="398.4" y2="11.31" stroke="#777" stroke-width="0.9"/>
<line x1="395.9" y1="9.72" x2="398.4" y2="9.72" stroke="#777" stroke-width="0.9"/>
<line x1="394.9" y1="8.3" x2="398.4" y2="8.3" stroke="#555" stroke-width="1"/>
<line x1="618.4" y1="225.40" x2="621.9" y2="225.40" stroke="#555" stroke-width="1"/>
<line x1="618.4" y1="214.51" x2="620.9" y2="214.51" stroke="#777" stroke-width="0.9"/>
<line x1="618.4" y1="208.14" x2="620.9" y2="208.14" stroke="#777" stroke-width="0.9"/>
<line x1="618.4" y1="203.62" x2="620.9" y2="203.62" stroke="#777" stroke-width="0.9"/>
<line x1="618.4" y1="200.11" x2="620.9" y2="200.11" stroke="#777" stroke-width="0.9"/>
<line x1="618.4" y1="197.24" x2="620.9" y2="197.24" stroke="#777" stroke-width="0.9"/>
<line x1="618.4" y1="194.82" x2="620.9" y2="194.82" stroke="#777" stroke-width="0.9"/>
<line x1="618.4" y1="192.72" x2="620.9" y2="192.72" stroke="#777" stroke-width="0.9"/>
<line x1="618.4" y1="190.87" x2="620.9" y2="190.87" stroke="#777" stroke-width="0.9"/>
<line x1="618.4" y1="189.22" x2="621.9" y2="189.22" stroke="#555" stroke-width="1"/>
<line x1="618.4" y1="178.32" x2="620.9" y2="178.32" stroke="#777" stroke-width="0.9"/>
<line x1="618.4" y1="171.95" x2="620.9" y2="171.95" stroke="#777" stroke-width="0.9"/>
<line x1="618.4" y1="167.43" x2="620.9" y2="167.43" stroke="#777" stroke-width="0.9"/>
<line x1="618.4" y1="163.93" x2="620.9" y2="163.93" stroke="#777" stroke-width="0.9"/>
<line x1="618.4" y1="161.06" x2="620.9" y2="161.06" stroke="#777" stroke-width="0.9"/>
<line x1="618.4" y1="158.64" x2="620.9" y2="158.64" stroke="#777" stroke-width="0.9"/>
<line x1="618.4" y1="156.54" x2="620.9" y2="156.54" stroke="#777" stroke-width="0.9"/>
<line x1="618.4" y1="154.69" x2="620.9" y2="154.69" stroke="#777" stroke-width="0.9"/>
<line x1="618.4" y1="153.03" x2="621.9" y2="153.03" stroke="#555" stroke-width="1"/>
<line x1="618.4" y1="142.14" x2="620.9" y2="142.14" stroke="#777" stroke-width="0.9"/>
<line x1="618.4" y1="135.77" x2="620.9" y2="135.77" stroke="#777" stroke-width="0.9"/>
<line x1="618.4" y1="131.25" x2="620.9" y2="131.25" stroke="#777" stroke-width="0.9"/>
<line x1="618.4" y1="127.74" x2="620.9" y2="127.74" stroke="#777" stroke-width="0.9"/>
<line x1="618.4" y1="124.88" x2="620.9" y2="124.88" stroke="#777" stroke-width="0.9"/>
<line x1="618.4" y1="122.45" x2="620.9" y2="122.45" stroke="#777" stroke-width="0.9"/>
<line x1="618.4" y1="120.36" x2="620.9" y2="120.36" stroke="#777" stroke-width="0.9"/>
<line x1="618.4" y1="118.51" x2="620.9" y2="118.51" stroke="#777" stroke-width="0.9"/>
<line x1="618.4" y1="116.85" x2="621.9" y2="116.85" stroke="#555" stroke-width="1"/>
<line x1="618.4" y1="105.96" x2="620.9" y2="105.96" stroke="#777" stroke-width="0.9"/>
<line x1="618.4" y1="99.59" x2="620.9" y2="99.59" stroke="#777" stroke-width="0.9"/>
<line x1="618.4" y1="95.07" x2="620.9" y2="95.07" stroke="#777" stroke-width="0.9"/>
<line x1="618.4" y1="91.56" x2="620.9" y2="91.56" stroke="#777" stroke-width="0.9"/>
<line x1="618.4" y1="88.69" x2="620.9" y2="88.69" stroke="#777" stroke-width="0.9"/>
<line x1="618.4" y1="86.27" x2="620.9" y2="86.27" stroke="#777" stroke-width="0.9"/>
<line x1="618.4" y1="84.17" x2="620.9" y2="84.17" stroke="#777" stroke-width="0.9"/>
<line x1="618.4" y1="82.32" x2="620.9" y2="82.32" stroke="#777" stroke-width="0.9"/>
<line x1="618.4" y1="80.67" x2="621.9" y2="80.67" stroke="#555" stroke-width="1"/>
<line x1="618.4" y1="69.77" x2="620.9" y2="69.77" stroke="#777" stroke-width="0.9"/>
<line x1="618.4" y1="63.40" x2="620.9" y2="63.40" stroke="#777" stroke-width="0.9"/>
<line x1="618.4" y1="58.88" x2="620.9" y2="58.88" stroke="#777" stroke-width="0.9"/>
<line x1="618.4" y1="55.38" x2="620.9" y2="55.38" stroke="#777" stroke-width="0.9"/>
<line x1="618.4" y1="52.51" x2="620.9" y2="52.51" stroke="#777" stroke-width="0.9"/>
<line x1="618.4" y1="50.09" x2="620.9" y2="50.09" stroke="#777" stroke-width="0.9"/>
<line x1="618.4" y1="47.99" x2="620.9" y2="47.99" stroke="#777" stroke-width="0.9"/>
<line x1="618.4" y1="46.14" x2="620.9" y2="46.14" stroke="#777" stroke-width="0.9"/>
<line x1="618.4" y1="44.48" x2="621.9" y2="44.48" stroke="#555" stroke-width="1"/>
<line x1="618.4" y1="33.59" x2="620.9" y2="33.59" stroke="#777" stroke-width="0.9"/>
<line x1="618.4" y1="27.22" x2="620.9" y2="27.22" stroke="#777" stroke-width="0.9"/>
<line x1="618.4" y1="22.70" x2="620.9" y2="22.70" stroke="#777" stroke-width="0.9"/>
<line x1="618.4" y1="19.19" x2="620.9" y2="19.19" stroke="#777" stroke-width="0.9"/>
<line x1="618.4" y1="16.33" x2="620.9" y2="16.33" stroke="#777" stroke-width="0.9"/>
<line x1="618.4" y1="13.90" x2="620.9" y2="13.90" stroke="#777" stroke-width="0.9"/>
<line x1="618.4" y1="11.81" x2="620.9" y2="11.81" stroke="#777" stroke-width="0.9"/>
<line x1="618.4" y1="9.96" x2="620.9" y2="9.96" stroke="#777" stroke-width="0.9"/>
<line x1="618.4" y1="8.3" x2="621.9" y2="8.3" stroke="#555" stroke-width="1"/>
<line x1="429.83" y1="221.9" x2="429.83" y2="225.4" stroke="#555" stroke-width="1"/>
<line x1="461.26" y1="221.9" x2="461.26" y2="225.4" stroke="#555" stroke-width="1"/>
<line x1="492.69" y1="221.9" x2="492.69" y2="225.4" stroke="#555" stroke-width="1"/>
<line x1="524.11" y1="221.9" x2="524.11" y2="225.4" stroke="#555" stroke-width="1"/>
<line x1="555.54" y1="221.9" x2="555.54" y2="225.4" stroke="#555" stroke-width="1"/>
<line x1="586.97" y1="221.9" x2="586.97" y2="225.4" stroke="#555" stroke-width="1"/>
<text x="367.2" y="228.70" font-size="13.2">10<tspan font-size="8.6" dy="-4.3">14</tspan></text>
<text x="367.2" y="197.69" font-size="13.2">10<tspan font-size="8.6" dy="-4.3">15</tspan></text>
<text x="367.2" y="166.67" font-size="13.2">10<tspan font-size="8.6" dy="-4.3">16</tspan></text>
<text x="367.2" y="135.66" font-size="13.2">10<tspan font-size="8.6" dy="-4.3">17</tspan></text>
<text x="367.2" y="104.64" font-size="13.2">10<tspan font-size="8.6" dy="-4.3">18</tspan></text>
<text x="367.2" y="73.63" font-size="13.2">10<tspan font-size="8.6" dy="-4.3">19</tspan></text>
<text x="367.2" y="42.61" font-size="13.2">10<tspan font-size="8.6" dy="-4.3">20</tspan></text>
<text x="367.2" y="11.60" font-size="13.2">10<tspan font-size="8.6" dy="-4.3">21</tspan></text>
<text x="627.5" y="230.00" font-size="13.2">10<tspan font-size="8.6" dy="-4.3">0</tspan></text>
<text x="627.5" y="193.82" font-size="13.2">10<tspan font-size="8.6" dy="-4.3">1</tspan></text>
<text x="627.5" y="157.63" font-size="13.2">10<tspan font-size="8.6" dy="-4.3">2</tspan></text>
<text x="627.5" y="121.45" font-size="13.2">10<tspan font-size="8.6" dy="-4.3">3</tspan></text>
<text x="627.5" y="85.27" font-size="13.2">10<tspan font-size="8.6" dy="-4.3">4</tspan></text>
<text x="627.5" y="49.08" font-size="13.2">10<tspan font-size="8.6" dy="-4.3">5</tspan></text>
<text x="627.5" y="12.90" font-size="13.2">10<tspan font-size="8.6" dy="-4.3">6</tspan></text>
<text x="397.60" y="242.60" font-size="13.6" text-anchor="middle">0</text>
<text x="429.03" y="242.60" font-size="13.6" text-anchor="middle">0.5</text>
<text x="460.46" y="242.60" font-size="13.6" text-anchor="middle">1</text>
<text x="491.89" y="242.60" font-size="13.6" text-anchor="middle">1.5</text>
<text x="523.31" y="242.60" font-size="13.6" text-anchor="middle">2</text>
<text x="554.74" y="242.60" font-size="13.6" text-anchor="middle">2.5</text>
<text x="586.17" y="242.60" font-size="13.6" text-anchor="middle">3</text>
<text x="617.60" y="242.60" font-size="13.6" text-anchor="middle">3.5</text>
<text x="481.6" y="256.8" font-size="15.7">Depth (&#181;m)</text>
<text transform="translate(357.3,190.2) rotate(-90)" font-size="15.3">Concentration</text>
<text transform="translate(357.3,98.2) rotate(-90)" font-size="15.3">(at./cm<tspan font-size="10" dy="-5.5">3</tspan><tspan dy="5.5">)</tspan></text>
<text transform="translate(664.5,116.4) rotate(-90)" font-size="15.5" text-anchor="middle">Detection (Counts/s)</text>
<text x="596" y="26.2" font-size="13.8">(b)</text>
<line x1="494.90000000000003" y1="77.6" x2="512.3" y2="77.6" stroke="#20c4c4" stroke-width="1.6"/>
<text x="513.8" y="81.39999999999999" font-size="12">Al<tspan x="531.7">(at./cm<tspan font-size="7" dy="-4.8">3</tspan><tspan dy="4.8" dx="0.8">)</tspan></tspan></text>
<line x1="494.90000000000003" y1="95.8" x2="512.3" y2="95.8" stroke="#1762f0" stroke-width="1.6"/>
<text x="513.8" y="99.6" font-size="12">Ga<tspan x="531.1">(at./cm<tspan font-size="7" dy="-4.8">3</tspan><tspan dy="4.8" dx="0.8">)</tspan></tspan></text>
<line x1="494.90000000000003" y1="114.4" x2="512.3" y2="114.4" stroke="#ee1c24" stroke-width="1.6"/>
<text x="513.8" y="118.2" font-size="12">Si<tspan x="531.3">(counts/s)</tspan></text>
</g>
</svg></body></html>
